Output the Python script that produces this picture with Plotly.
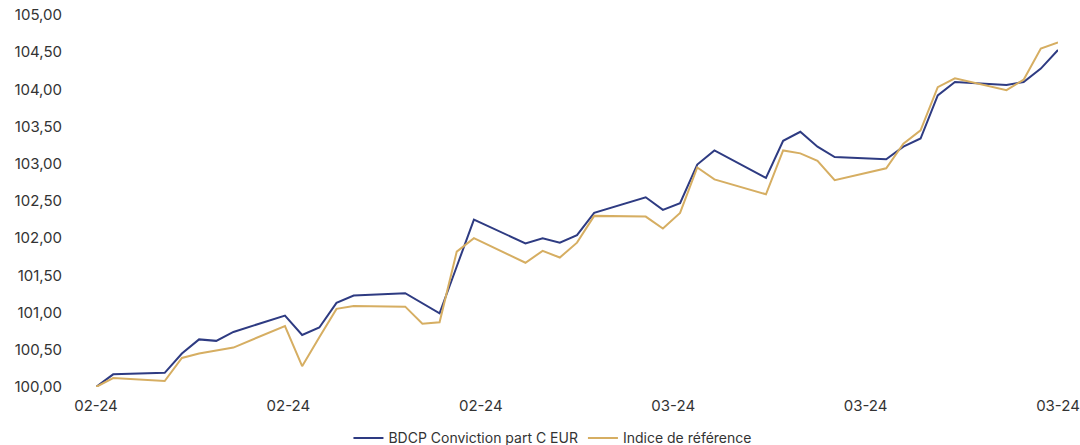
import plotly.graph_objects as go
import pandas as pd

dates = ["2024-02-01", "2024-02-02", "2024-02-05", "2024-02-06", "2024-02-07", "2024-02-08", "2024-02-09",
         "2024-02-12", "2024-02-13", "2024-02-14", "2024-02-15", "2024-02-16",
         "2024-02-19", "2024-02-20", "2024-02-21", "2024-02-22", "2024-02-23",
         "2024-02-26", "2024-02-27", "2024-02-28", "2024-02-29", "2024-03-01",
         "2024-03-04", "2024-03-05", "2024-03-06", "2024-03-07", "2024-03-08",
         "2024-03-11", "2024-03-12", "2024-03-13", "2024-03-14", "2024-03-15",
         "2024-03-18", "2024-03-19", "2024-03-20", "2024-03-21", "2024-03-22",
         "2024-03-25", "2024-03-26", "2024-03-27", "2024-03-28"]

fonds = [100.00, 100.17, 100.19, 100.45, 100.64, 100.62, 100.74,
         100.96, 100.70, 100.80, 101.13, 101.23,
         101.26, 101.13, 100.99, 101.62, 102.25,
         101.93, 102.00, 101.94, 102.04, 102.34,
         102.55, 102.38, 102.47, 102.99, 103.18,
         102.81, 103.31, 103.43, 103.23, 103.09,
         103.06, 103.23, 103.34, 103.92, 104.10,
         104.06, 104.10, 104.28, 104.53]

indice = [100.00, 100.12, 100.08, 100.39, 100.45, 100.49, 100.53,
          100.82, 100.28, 100.67, 101.05, 101.09,
          101.08, 100.85, 100.87, 101.82, 102.00,
          101.67, 101.83, 101.74, 101.94, 102.30,
          102.29, 102.13, 102.34, 102.95, 102.79,
          102.59, 103.18, 103.14, 103.04, 102.78,
          102.94, 103.27, 103.45, 104.03, 104.15,
          103.99, 104.13, 104.55, 104.63]

y_ticks = [100.0, 100.5, 101.0, 101.5, 102.0, 102.5, 103.0, 103.5, 104.0, 104.5, 105.0]
y_labels = [f"{v:.2f}".replace(".", ",") for v in y_ticks]

x = pd.to_datetime(dates)
x_ticks = pd.date_range(x[0], x[-1], periods=6)
x_labels = [d.strftime("%m-%y") for d in x_ticks]

fig = go.Figure()
fig.add_trace(go.Scatter(x=x, y=fonds, mode="lines", name="BDCP Conviction part C EUR",
                         line=dict(color="#2E3B82", width=2)))
fig.add_trace(go.Scatter(x=x, y=indice, mode="lines", name="Indice de référence",
                         line=dict(color="#D6AE62", width=2)))

fig.update_layout(
    width=1080, height=445,
    margin=dict(l=96, r=22, t=15, b=58, autoexpand=False),
    paper_bgcolor="white", plot_bgcolor="white",
    font=dict(family="Inter, Roboto, sans-serif", size=15, color="#333333"),
    showlegend=True,
    legend=dict(orientation="h", x=0.475, xanchor="center", y=-0.095, yanchor="top",
                font=dict(size=14, color="#333333"), itemwidth=30),
    xaxis=dict(range=[x[0], x[-1]], tickvals=x_ticks, ticktext=x_labels,
               showgrid=False, zeroline=False, showline=False, ticks="",
               automargin=False, ticklabelstandoff=8,
               tickfont=dict(size=15, color="#333333")),
    yaxis=dict(range=[100, 105], tickvals=y_ticks, ticktext=y_labels,
               showgrid=False, zeroline=False, showline=False, ticks="",
               automargin=False, ticklabelstandoff=33,
               tickfont=dict(size=15, color="#333333")),
)

fig.write_html("out.html", config={"displayModeBar": False},
               post_script="document.body.style.margin='0';document.body.style.overflow='hidden';")
